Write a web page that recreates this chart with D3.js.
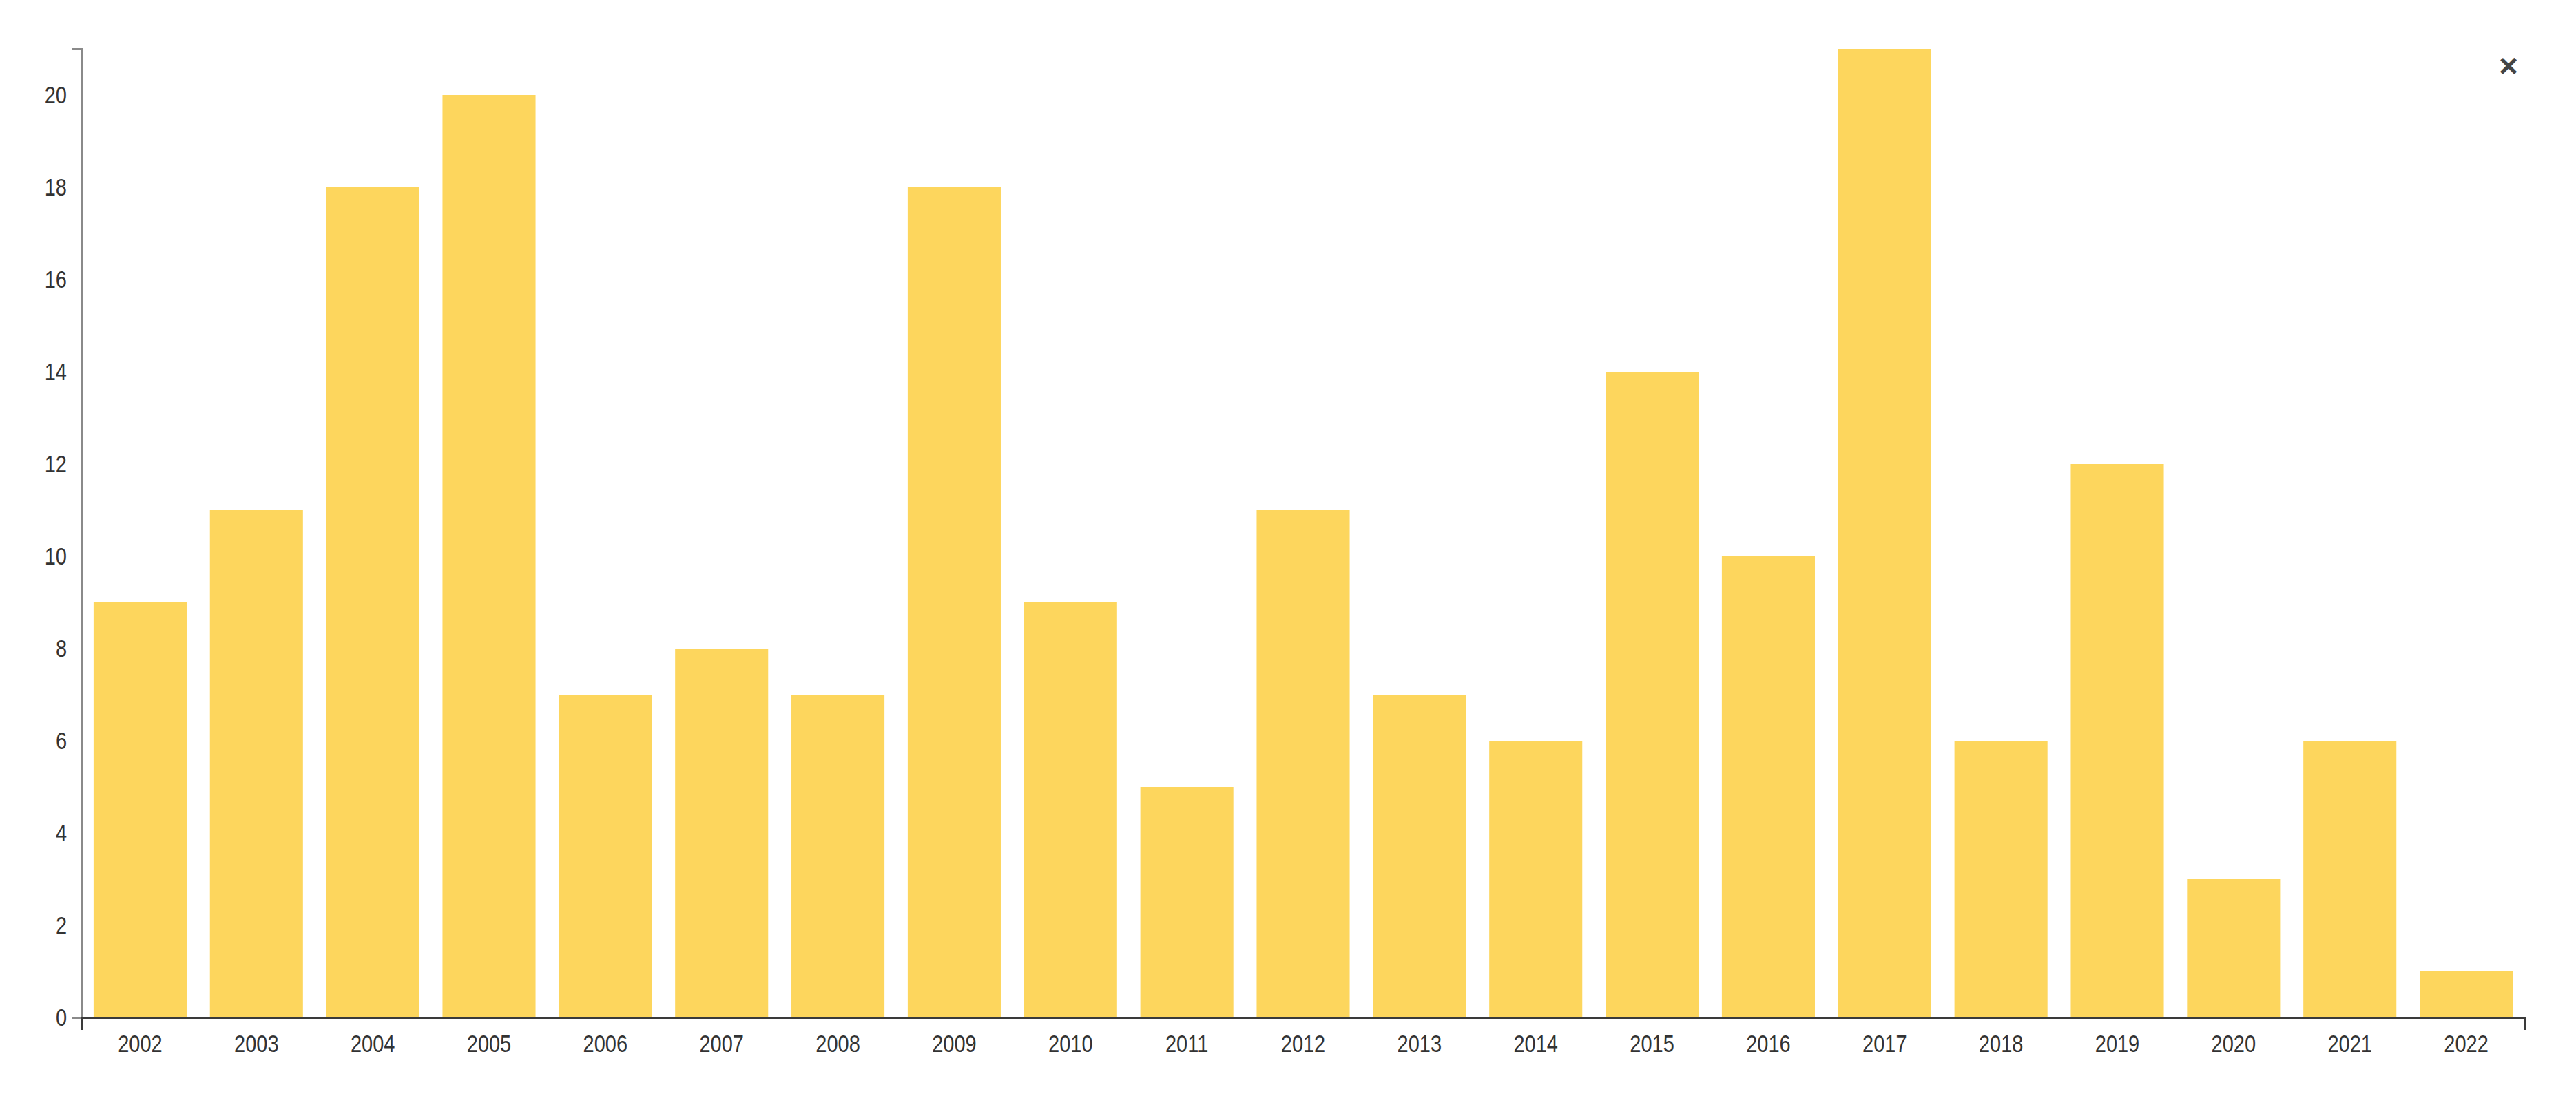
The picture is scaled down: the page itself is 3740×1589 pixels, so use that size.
<!DOCTYPE html>
<html>
<head>
<meta charset="utf-8">
<script src="https://cdn.jsdelivr.net/npm/d3@7"></script>
<style>
  html, body { margin: 0; padding: 0; background: #ffffff; }
  svg { display: block; }
  text { font-family: "Liberation Sans", Arial, sans-serif; }
</style>
</head>
<body>
<svg id="chart" width="3740" height="1589"></svg>
<script>
const years = ["2002","2003","2004","2005","2006","2007","2008","2009","2010","2011","2012","2013","2014","2015","2016","2017","2018","2019","2020","2021","2022"];
const counts = [9, 11, 18, 20, 7, 8, 7, 18, 9, 5, 11, 7, 6, 14, 10, 21, 6, 12, 3, 6, 1];
const yTicks = [0, 2, 4, 6, 8, 10, 12, 14, 16, 18, 20];
const yMax = 21;

const W = 3740, H = 1589;
const margin = { top: 71, right: 75, bottom: 111, left: 119 };
const innerW = W - margin.left - margin.right;
const innerH = H - margin.top - margin.bottom;

const svg = d3.select("#chart");
const g = svg.append("g").attr("transform", `translate(${margin.left},${margin.top})`);

const x = d3.scaleBand().domain(years).range([0, innerW]).paddingInner(0.2).paddingOuter(0.1);
const y = d3.scaleLinear().domain([0, yMax]).range([innerH, 0]);

g.selectAll("rect.bar")
  .data(years.map((yr, i) => ({ yr, v: counts[i] })))
  .join("rect")
  .attr("class", "bar")
  .attr("x", d => x(d.yr))
  .attr("y", d => y(d.v))
  .attr("width", x.bandwidth())
  .attr("height", d => innerH - y(d.v))
  .attr("fill", "#fdd65d");

const sy = 1.2;

const yAxis = g.append("g")
  .call(d3.axisLeft(y).tickValues(yTicks).tickSizeInner(0).tickSizeOuter(14).tickPadding(22));
yAxis.select(".domain").attr("stroke", "#8a8a8a").attr("stroke-width", 3);
yAxis.selectAll(".tick line").remove();
yAxis.selectAll(".tick text")
  .attr("font-size", 29)
  .attr("fill", "#333")
  .attr("font-family", "'Liberation Sans', Arial, sans-serif")
  .attr("transform", `scale(1,${sy})`);

const xAxis = g.append("g")
  .attr("transform", `translate(0,${innerH})`)
  .call(d3.axisBottom(x).tickSizeInner(0).tickSizeOuter(18).tickPadding(21));
xAxis.select(".domain").attr("stroke", "#3a3a3a").attr("stroke-width", 3);
xAxis.selectAll(".tick line").remove();
xAxis.selectAll(".tick text")
  .attr("font-size", 29)
  .attr("fill", "#333")
  .attr("font-family", "'Liberation Sans', Arial, sans-serif")
  .attr("transform", `scale(1,${sy})`);

// close icon
svg.append("text")
  .attr("x", 3642)
  .attr("y", 95)
  .attr("text-anchor", "middle")
  .attr("dominant-baseline", "central")
  .attr("font-size", 48)
  .attr("font-weight", "bold")
  .attr("fill", "#444")
  .attr("font-family", "'DejaVu Sans', sans-serif")
  .text("×");
</script>
</body>
</html>
